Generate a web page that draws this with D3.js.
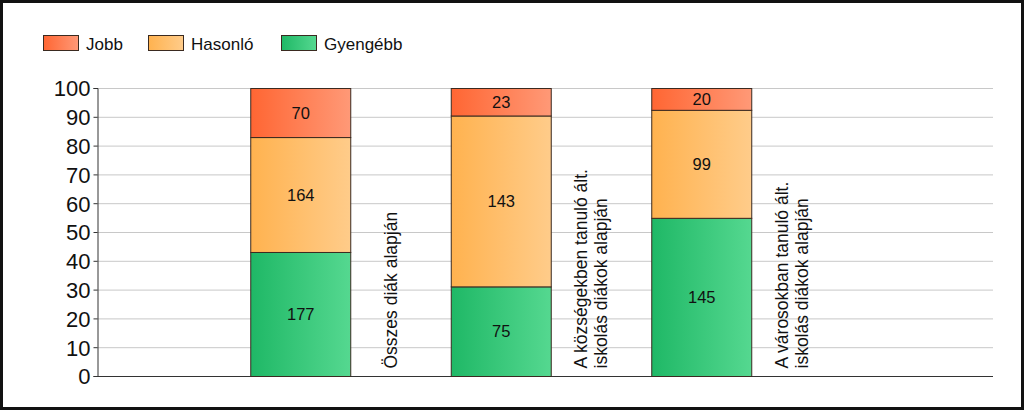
<!DOCTYPE html>
<html><head><meta charset="utf-8">
<script src="https://d3js.org/d3.v7.min.js"></script>
<style>
html,body{margin:0;padding:0;background:#fff;}
svg{display:block;}
svg text{font-family:Arial,"Liberation Sans",sans-serif;}
</style></head>
<body>
<svg id="chart" width="1024" height="410"></svg>
<script>
const categories = ["Összes diák alapján", "A községekben tanuló ált. iskolás diákok alapján", "A városokban tanuló ált. iskolás diákok alapján"];
const categoryLines = [["Összes diák alapján"], ["A községekben tanuló ált.", "iskolás diákok alapján"], ["A városokban tanuló ált.", "iskolás diákok alapján"]];
const seriesNames = ["Jobb", "Hasonló", "Gyengébb"];
const jobb = [70, 23, 20];
const hasonlo = [164, 143, 99];
const gyengebb = [177, 75, 145];
const yTicks = [0, 10, 20, 30, 40, 50, 60, 70, 80, 90, 100];

const svg = d3.select("#chart");
const W = 1024, H = 410;

// frame
svg.append("rect").attr("x", 1.5).attr("y", 1.5).attr("width", W - 3).attr("height", H - 3)
  .attr("fill", "#fff").attr("stroke", "#111").attr("stroke-width", 3);

const defs = svg.append("defs");
const grads = [
  ["gJobb", "#ff6633", "#ff9977"],
  ["gHas", "#ffb24f", "#ffcc8a"],
  ["gGy", "#1fb866", "#55d890"]
];
grads.forEach(([id, c1, c2]) => {
  const g = defs.append("linearGradient").attr("id", id).attr("x1", "0").attr("x2", "1").attr("y1", "0").attr("y2", "0");
  g.append("stop").attr("offset", "0").attr("stop-color", c1);
  g.append("stop").attr("offset", "1").attr("stop-color", c2);
});
const fills = ["url(#gJobb)", "url(#gHas)", "url(#gGy)"];

const y = d3.scaleLinear().domain([0, 100]).range([376, 88]);
const x = d3.scaleBand().domain(categories).range([200, 801.5]).padding(0);
const plotLeft = 97, plotRight = 993;

// grid
svg.append("g").selectAll("line").data(yTicks.filter(t => t > 0)).join("line")
  .attr("x1", plotLeft).attr("x2", plotRight)
  .attr("y1", d => y(d) + 0.5).attr("y2", d => y(d) + 0.5)
  .attr("stroke", "#c8c8c8").attr("stroke-width", 1);

// y axis
const yAxis = d3.axisLeft(y).tickValues(yTicks).tickSize(4).tickPadding(3);
const ga = svg.append("g").attr("transform", `translate(${plotLeft + 0.5},0)`).call(yAxis);
ga.attr("font-family", null);
ga.select(".domain").attr("stroke", "#333");
ga.selectAll(".tick line").attr("stroke", "#333");
ga.selectAll(".tick text").attr("font-size", 22).attr("fill", "#111").attr("dy", "0.36em");

// x baseline
svg.append("line").attr("x1", plotLeft).attr("x2", plotRight).attr("y1", y(0) + 0.5).attr("y2", y(0) + 0.5)
  .attr("stroke", "#333").attr("stroke-width", 1);

// stacked data
const rows = categories.map((c, i) => ({ cat: c, Gyengébb: gyengebb[i], Hasonló: hasonlo[i], Jobb: jobb[i] }));
const stackOrder = ["Gyengébb", "Hasonló", "Jobb"];
const stack = d3.stack().keys(stackOrder).offset(d3.stackOffsetExpand);
const layers = stack(rows);
const barW = 100;
const colorOf = { "Jobb": fills[0], "Hasonló": fills[1], "Gyengébb": fills[2] };

layers.forEach(layer => {
  const key = layer.key;
  const g = svg.append("g");
  g.selectAll("rect").data(layer).join("rect")
    .attr("x", d => x(d.data.cat) + (x.bandwidth() - barW) / 2 + 0.5)
    .attr("width", barW)
    .attr("y", d => y(d[1] * 100) + 0.5)
    .attr("height", d => y(d[0] * 100) - y(d[1] * 100))
    .attr("fill", colorOf[key])
    .attr("stroke", "#3a2a20").attr("stroke-width", 1);
  g.selectAll("text").data(layer).join("text")
    .attr("x", d => x(d.data.cat) + x.bandwidth() / 2 + 0.5)
    .attr("y", d => (y(d[0] * 100) + y(d[1] * 100)) / 2 + 6)
    .attr("text-anchor", "middle").attr("font-size", 16.5).attr("fill", "#111")
    .text(d => d.data[key]);
});

// rotated category labels
categories.forEach((c, i) => {
  const lines = categoryLines[i];
  const right = x(c) + (x.bandwidth() + barW) / 2;
  const n = lines.length;
  const lh = 20;
  lines.forEach((ln, j) => {
    const lx = right + 46.5 + (j - (n - 1) / 2) * lh;
    svg.append("text")
      .attr("transform", `translate(${lx},368.5) rotate(-90)`)
      .attr("text-anchor", "start").attr("font-size", 17.5).attr("fill", "#111")
      .text(ln);
  });
});

// legend
const legendX = [43, 148, 281];
const lg = svg.append("g");
seriesNames.forEach((s, i) => {
  lg.append("rect").attr("x", legendX[i] + 0.5).attr("y", 35.5).attr("width", 35).attr("height", 15)
    .attr("fill", fills[i]).attr("stroke", "#3a2a20").attr("stroke-width", 1);
  lg.append("text").attr("x", legendX[i] + 43).attr("y", 49.5).attr("font-size", 17).attr("fill", "#111").text(s);
});
</script>
</body></html>
